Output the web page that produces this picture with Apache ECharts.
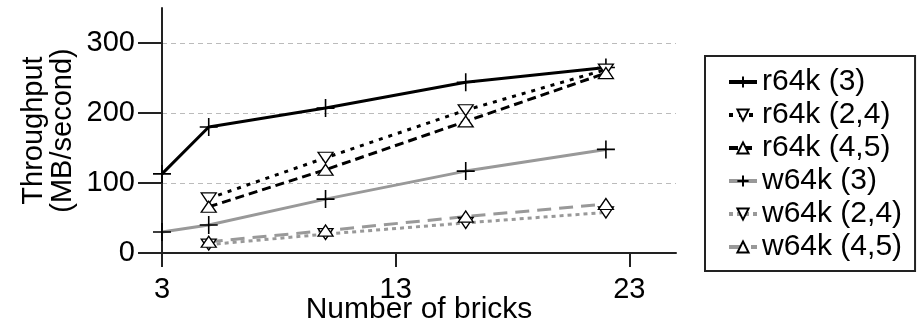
<!DOCTYPE html>
<html>
<head>
<meta charset="utf-8">
<script src="https://cdn.jsdelivr.net/npm/echarts@6/dist/echarts.min.js"></script>
<style>
  html, body { margin: 0; padding: 0; background: #fff; }
  #chart { width: 918px; height: 327px; }
</style>
</head>
<body>
<div id="chart"></div>
<script>
  // bricks on the x axis
  var bricksAll = [3, 5, 10, 16, 22];
  var bricksStriped = [5, 10, 16, 22];
  var xTicks = [3, 13, 23];
  var yTicks = [0, 100, 200, 300];

  // throughput, MB/second
  var r64k3 = [113, 180, 207, 244, 265];
  var r64k24 = [78, 136, 204, 262];
  var r64k45 = [66, 119, 188, 257];
  var w64k3 = [30, 40, 77, 117, 148];
  var w64k24 = [12, 27, 43, 58];
  var w64k45 = [16, 32, 52, 70];

  var font = 'Liberation Sans, Arial, sans-serif';
  var plus = 'path://M0,10L20,10M10,0L10,20';

  function pairs(xs, ys) {
    return ys.map(function (v, i) { return [xs[i], v]; });
  }

  function line(name, xs, ys, color, dash, symbol) {
    var s = {
      name: name,
      type: 'line',
      data: pairs(xs, ys),
      lineStyle: { color: color, width: 3, type: dash },
      itemStyle: { color: '#fff', borderColor: '#000', borderWidth: 1.3 },
      animation: false
    };
    if (symbol === 'plus') {
      s.symbol = plus;
      s.symbolSize = 18;
      s.itemStyle = { color: 'none', borderColor: '#000', borderWidth: 1.6 };
    } else if (symbol === 'down') {
      s.symbol = 'triangle';
      s.symbolRotate = 180;
      s.symbolSize = [15, 11];
    } else {
      s.symbol = 'triangle';
      s.symbolSize = [15, 11];
    }
    return s;
  }

  var chart = echarts.init(document.getElementById('chart'));
  chart.setOption({
    backgroundColor: '#fff',
    textStyle: { fontFamily: font },
    grid: { left: 162, right: 242, top: 8, bottom: 74, outerBoundsMode: 'none', containLabel: false },
    xAxis: {
      type: 'value',
      min: 3,
      max: 25,
      name: 'Number of bricks',
      nameLocation: 'middle',
      nameGap: 42,
      nameMoveOverlap: false,
      nameTextStyle: { fontSize: 30, color: '#000', fontFamily: font },
      axisLine: { lineStyle: { color: '#222', width: 2 } },
      axisTick: { show: true, length: 14, customValues: xTicks, lineStyle: { color: '#222', width: 2 } },
      axisLabel: { customValues: xTicks, fontSize: 29, color: '#000', margin: 22, fontFamily: font },
      splitLine: { show: false }
    },
    yAxis: {
      type: 'value',
      min: 0,
      max: 350,
      name: 'Throughput\n(MB/second)',
      nameLocation: 'middle',
      nameGap: 85,
      nameMoveOverlap: false,
      nameTextStyle: { fontSize: 29, lineHeight: 29, color: '#000', fontFamily: font },
      axisLine: { show: true, lineStyle: { color: '#222', width: 2 } },
      axisTick: { show: true, length: 24, customValues: yTicks, lineStyle: { color: '#222', width: 2 } },
      axisLabel: { customValues: yTicks, fontSize: 29, color: '#000', margin: 27, fontFamily: font },
      splitLine: { show: true, lineStyle: { color: '#bbb', width: 1, type: [5, 4] } }
    },
    legend: {
      orient: 'vertical',
      left: 705,
      top: 56,
      padding: [11, 13, 9, 22],
      itemGap: 3,
      itemWidth: 28,
      itemHeight: 14,
      borderColor: '#222',
      borderWidth: 2,
      lineStyle: { width: 4 },
      textStyle: { fontSize: 30, lineHeight: 29, color: '#000', fontFamily: font },
      data: ['r64k (3)', 'r64k (2,4)', 'r64k (4,5)', 'w64k (3)', 'w64k (2,4)', 'w64k (4,5)']
    },
    series: [
      line('r64k (3)', bricksAll, r64k3, '#000', 'solid', 'plus'),
      line('r64k (2,4)', bricksStriped, r64k24, '#000', [4, 6], 'down'),
      line('r64k (4,5)', bricksStriped, r64k45, '#000', [9, 5], 'up'),
      line('w64k (3)', bricksAll, w64k3, '#999', 'solid', 'plus'),
      line('w64k (2,4)', bricksStriped, w64k24, '#999', [4, 4], 'down'),
      line('w64k (4,5)', bricksStriped, w64k45, '#999', [14, 8], 'up')
    ]
  });
</script>
</body>
</html>
